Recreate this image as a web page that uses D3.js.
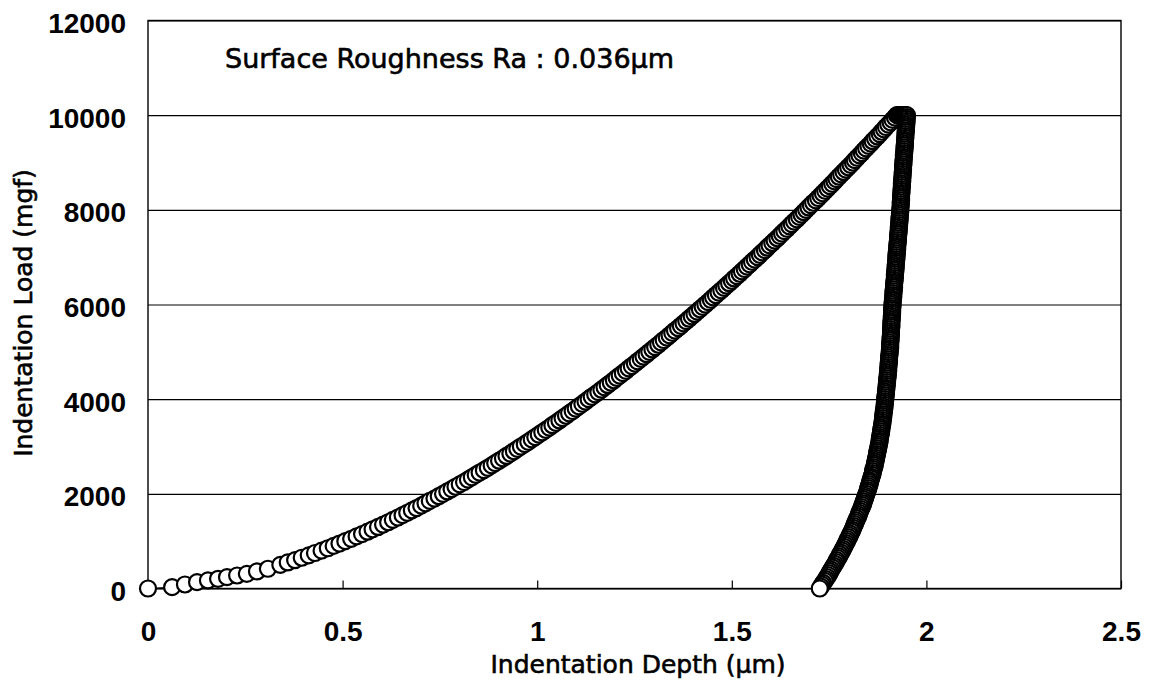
<!DOCTYPE html>
<html>
<head>
<meta charset="utf-8">
<script src="https://cdn.jsdelivr.net/npm/d3@7"></script>
<style>
  body { margin: 0; background: #fff; }
  svg { display: block; }
</style>
</head>
<body>
<svg id="chart" width="1151" height="695"></svg>
<script>
// Loading branch: indentation depth (µm) and load (mgf)
const loadDepth = [
  0, 0.062, 0.095, 0.126, 0.154, 0.180, 0.203, 0.229, 0.254, 0.280, 0.308,
  0.340, 0.359, 0.378, 0.395, 0.413, 0.429, 0.446, 0.462, 0.477, 0.492, 0.507,
  0.522, 0.536, 0.550, 0.564, 0.577, 0.591, 0.604, 0.617, 0.629, 0.642,
  0.654, 0.666, 0.678, 0.690, 0.702, 0.713, 0.724, 0.736, 0.747, 0.758,
  0.769, 0.780, 0.790, 0.801, 0.812, 0.822, 0.832, 0.842, 0.852, 0.863,
  0.873, 0.883, 0.892, 0.902, 0.912, 0.921, 0.931, 0.940, 0.949, 0.958,
  0.968, 0.977, 0.986, 0.995, 1.004, 1.013, 1.022, 1.031, 1.039, 1.048,
  1.057, 1.065, 1.074, 1.082, 1.091, 1.099, 1.107, 1.116, 1.124, 1.132,
  1.140, 1.149, 1.157, 1.165, 1.173, 1.181, 1.189, 1.197, 1.204, 1.212,
  1.220, 1.228, 1.235, 1.243, 1.251, 1.258, 1.266, 1.273, 1.281, 1.288,
  1.296, 1.303, 1.311, 1.318, 1.325, 1.333, 1.340, 1.347, 1.354, 1.362,
  1.369, 1.376, 1.383, 1.390, 1.397, 1.404, 1.411, 1.418, 1.425, 1.432,
  1.439, 1.446, 1.452, 1.459, 1.466, 1.473, 1.480, 1.486, 1.493, 1.500,
  1.506, 1.513, 1.520, 1.526, 1.533, 1.539, 1.546, 1.552, 1.559, 1.566,
  1.572, 1.578, 1.585, 1.591, 1.597, 1.604, 1.610, 1.617, 1.623, 1.629,
  1.635, 1.642, 1.648, 1.654, 1.660, 1.667, 1.673, 1.679, 1.685, 1.691,
  1.697, 1.703, 1.709, 1.716, 1.722, 1.728, 1.734, 1.740, 1.746, 1.752,
  1.758, 1.764, 1.769, 1.775, 1.781, 1.787, 1.793, 1.799, 1.805, 1.811,
  1.816, 1.822, 1.828, 1.834, 1.839, 1.845, 1.851, 1.857, 1.862, 1.868,
  1.874, 1.880, 1.885, 1.891, 1.896, 1.902, 1.908, 1.913, 1.919, 1.924
];
const loadForce = [
  0, 28, 85, 134, 170, 205, 240, 275, 310, 360, 417,
  500, 550, 600, 650, 700, 750, 800, 850, 900, 950, 1000,
  1050, 1100, 1150, 1200, 1250, 1300, 1350, 1400, 1450, 1500,
  1550, 1600, 1650, 1700, 1750, 1800, 1850, 1900, 1950, 2000,
  2050, 2100, 2150, 2200, 2250, 2300, 2350, 2400, 2450, 2500,
  2550, 2600, 2650, 2700, 2750, 2800, 2850, 2900, 2950, 3000,
  3050, 3100, 3150, 3200, 3250, 3300, 3350, 3400, 3450, 3500,
  3550, 3600, 3650, 3700, 3750, 3800, 3850, 3900, 3950, 4000,
  4050, 4100, 4150, 4200, 4250, 4300, 4350, 4400, 4450, 4500,
  4550, 4600, 4650, 4700, 4750, 4800, 4850, 4900, 4950, 5000,
  5050, 5100, 5150, 5200, 5250, 5300, 5350, 5400, 5450, 5500,
  5550, 5600, 5650, 5700, 5750, 5800, 5850, 5900, 5950, 6000,
  6050, 6100, 6150, 6200, 6250, 6300, 6350, 6400, 6450, 6500,
  6550, 6600, 6650, 6700, 6750, 6800, 6850, 6900, 6950, 7000,
  7050, 7100, 7150, 7200, 7250, 7300, 7350, 7400, 7450, 7500,
  7550, 7600, 7650, 7700, 7750, 7800, 7850, 7900, 7950, 8000,
  8050, 8100, 8150, 8200, 8250, 8300, 8350, 8400, 8450, 8500,
  8550, 8600, 8650, 8700, 8750, 8800, 8850, 8900, 8950, 9000,
  9050, 9100, 9150, 9200, 9250, 9300, 9350, 9400, 9450, 9500,
  9550, 9600, 9650, 9700, 9750, 9800, 9850, 9900, 9950, 10000
];

// Hold at peak load: depth creeps while load stays at maximum
const holdDepth = [1.927, 1.929, 1.931, 1.933, 1.935, 1.937, 1.939, 1.941, 1.943, 1.945, 1.947];
const holdForce = [10000, 10000, 10000, 10000, 10000, 10000, 10000, 10000, 10000, 10000, 10000];

// Unloading branch
const unloadDepth = [
  1.950, 1.950, 1.949, 1.949, 1.949, 1.948, 1.948, 1.947, 1.947, 1.947, 1.946, 1.946, 1.946,
  1.945, 1.945, 1.945, 1.944, 1.944, 1.944, 1.943, 1.943, 1.942, 1.942, 1.942, 1.941, 1.941,
  1.941, 1.940, 1.940, 1.940, 1.939, 1.939, 1.939, 1.938, 1.938, 1.938, 1.937, 1.937, 1.937,
  1.936, 1.936, 1.936, 1.935, 1.935, 1.935, 1.935, 1.934, 1.934, 1.934, 1.933, 1.933,
  1.933, 1.932, 1.932, 1.931, 1.931, 1.931, 1.930, 1.930, 1.929, 1.929, 1.929, 1.928, 1.928,
  1.927, 1.927, 1.927, 1.926, 1.926, 1.925, 1.925, 1.925, 1.924, 1.924, 1.923, 1.923,
  1.923, 1.922, 1.922, 1.921, 1.921, 1.921, 1.920, 1.920, 1.919, 1.919, 1.919, 1.918, 1.918,
  1.917, 1.917, 1.917, 1.916, 1.916, 1.915, 1.915, 1.915, 1.914, 1.914, 1.913, 1.913,
  1.913, 1.912, 1.912, 1.912, 1.912, 1.911, 1.911, 1.911, 1.910, 1.910, 1.910, 1.910, 1.909,
  1.909, 1.909, 1.909, 1.908, 1.908, 1.908, 1.907, 1.907, 1.907, 1.907, 1.906, 1.906,
  1.905, 1.905, 1.904, 1.904, 1.904, 1.903, 1.903, 1.902, 1.902, 1.902, 1.901, 1.901, 1.900,
  1.900, 1.899, 1.899, 1.898, 1.898, 1.897, 1.897, 1.896, 1.896, 1.895, 1.895, 1.894,
  1.894, 1.893, 1.893, 1.892, 1.892, 1.891, 1.890, 1.890, 1.889, 1.889, 1.888, 1.887, 1.887,
  1.886, 1.885, 1.884, 1.884, 1.883, 1.882, 1.881, 1.880, 1.880, 1.879, 1.878, 1.877,
  1.876, 1.875, 1.874, 1.873, 1.872, 1.871, 1.870, 1.869, 1.868, 1.867, 1.866, 1.864, 1.863,
  1.862, 1.861, 1.859, 1.858, 1.856, 1.855, 1.854, 1.852, 1.851, 1.849, 1.848, 1.846,
  1.844, 1.843, 1.841, 1.839, 1.838, 1.836, 1.834, 1.832, 1.830, 1.828, 1.826, 1.825, 1.822,
  1.820, 1.818, 1.816, 1.814, 1.812, 1.810, 1.808, 1.805, 1.803, 1.801, 1.798, 1.796,
  1.794, 1.791, 1.789, 1.786, 1.784, 1.781, 1.778, 1.776, 1.773, 1.770, 1.768, 1.765, 1.762,
  1.759, 1.756, 1.753, 1.751, 1.748, 1.745, 1.742, 1.739, 1.735, 1.732, 1.729, 1.726
];
const unloadForce = [
  10000, 9960, 9920, 9880, 9840, 9800, 9760, 9720, 9680, 9640, 9600, 9560, 9520,
  9480, 9440, 9400, 9360, 9320, 9280, 9240, 9200, 9160, 9120, 9080, 9040, 9000,
  8960, 8920, 8880, 8840, 8800, 8760, 8720, 8680, 8640, 8600, 8560, 8520, 8480,
  8440, 8400, 8360, 8320, 8280, 8240, 8200, 8160, 8120, 8080, 8040, 8000,
  7960, 7920, 7880, 7840, 7800, 7760, 7720, 7680, 7640, 7600, 7560, 7520, 7480,
  7440, 7400, 7360, 7320, 7280, 7240, 7200, 7160, 7120, 7080, 7040, 7000,
  6960, 6920, 6880, 6840, 6800, 6760, 6720, 6680, 6640, 6600, 6560, 6520, 6480,
  6440, 6400, 6360, 6320, 6280, 6240, 6200, 6160, 6120, 6080, 6040, 6000,
  5960, 5920, 5880, 5840, 5800, 5760, 5720, 5680, 5640, 5600, 5560, 5520, 5480,
  5440, 5400, 5360, 5320, 5280, 5240, 5200, 5160, 5120, 5080, 5040, 5000,
  4960, 4920, 4880, 4840, 4800, 4760, 4720, 4680, 4640, 4600, 4560, 4520, 4480,
  4440, 4400, 4360, 4320, 4280, 4240, 4200, 4160, 4120, 4080, 4040, 4000,
  3960, 3920, 3880, 3840, 3800, 3760, 3720, 3680, 3640, 3600, 3560, 3520, 3480,
  3440, 3400, 3360, 3320, 3280, 3240, 3200, 3160, 3120, 3080, 3040, 3000,
  2960, 2920, 2880, 2840, 2800, 2760, 2720, 2680, 2640, 2600, 2560, 2520, 2480,
  2440, 2400, 2360, 2320, 2280, 2240, 2200, 2160, 2120, 2080, 2040, 2000,
  1960, 1920, 1880, 1840, 1800, 1760, 1720, 1680, 1640, 1600, 1560, 1520, 1480,
  1440, 1400, 1360, 1320, 1280, 1240, 1200, 1160, 1120, 1080, 1040, 1000,
  960, 920, 880, 840, 800, 760, 720, 680, 640, 600, 560, 520, 480,
  440, 400, 360, 320, 280, 240, 200, 160, 120, 80, 40, 0
];

// Axis ticks and texts
const xTicks = [0, 0.5, 1, 1.5, 2, 2.5];
const yTicks = [0, 2000, 4000, 6000, 8000, 10000, 12000];
const xTitle = "Indentation Depth (µm)";
const yTitle = "Indentation Load (mgf)";
const note = "Surface Roughness Ra : 0.036µm";

const svg = d3.select("#chart");
const plot = { left: 148, right: 1121, top: 20.5, bottom: 588.5 };
const x = d3.scaleLinear().domain([0, 2.5]).range([plot.left, plot.right]);
const y = d3.scaleLinear().domain([0, 12000]).range([plot.bottom, plot.top]);

svg.append("rect").attr("width", 1151).attr("height", 695).attr("fill", "#fff");

const tickFont = "'Liberation Sans', Arial, sans-serif";
const titleFont = "'DejaVu Sans', sans-serif";

// Horizontal gridlines and y tick labels
const yAxis = svg.append("g")
  .attr("transform", `translate(${plot.left},0)`)
  .call(d3.axisLeft(y).tickValues(yTicks)
    .tickSize(-(plot.right - plot.left))
    .tickFormat(d => String(d)));
yAxis.select(".domain").remove();
yAxis.selectAll(".tick line")
  .attr("stroke", "#000").attr("stroke-width", 1.2);
yAxis.selectAll(".tick text")
  .attr("x", -22).attr("dy", null).attr("y", 12)
  .attr("text-anchor", "end")
  .style("font-family", tickFont).style("font-size", "28px")
  .style("font-weight", "bold").attr("fill", "#000");

// X axis with short inward ticks
const xAxis = svg.append("g")
  .attr("transform", `translate(0,${plot.bottom})`)
  .call(d3.axisBottom(x).tickValues(xTicks).tickSize(-8)
    .tickFormat(d => String(d)));
xAxis.select(".domain").remove();
xAxis.selectAll(".tick line").attr("stroke", "#000").attr("stroke-width", 1.2);
xAxis.selectAll(".tick text")
  .attr("y", 52.5).attr("dy", null)
  .style("font-family", tickFont).style("font-size", "28px")
  .style("font-weight", "bold").attr("fill", "#000");

// Plot frame
svg.append("rect")
  .attr("x", plot.left).attr("y", plot.top)
  .attr("width", plot.right - plot.left).attr("height", plot.bottom - plot.top)
  .attr("fill", "none").attr("stroke", "#000").attr("stroke-width", 1.4);

// Measured points in acquisition order
const points = [
  ...d3.zip(loadDepth, loadForce),
  ...d3.zip(holdDepth, holdForce),
  ...d3.zip(unloadDepth, unloadForce)
];

svg.append("path")
  .datum(points)
  .attr("fill", "none").attr("stroke", "#000").attr("stroke-width", 1)
  .attr("d", d3.line().x(d => x(d[0])).y(d => y(d[1])));

svg.append("g").selectAll("circle")
  .data(points)
  .join("circle")
  .attr("cx", d => x(d[0]))
  .attr("cy", d => y(d[1]))
  .attr("r", 8)
  .attr("fill", "#fff")
  .attr("stroke", "#000")
  .attr("stroke-width", 2.2);

// Annotation
svg.append("text")
  .attr("x", 225).attr("y", 68)
  .style("font-family", titleFont).style("font-size", "27px")
  .attr("fill", "#000").attr("stroke", "#000").attr("stroke-width", 0.6)
  .text(note);

// Axis titles
svg.append("text")
  .attr("x", 638).attr("y", 673)
  .attr("text-anchor", "middle")
  .style("font-family", titleFont).style("font-size", "25px")
  .attr("fill", "#000").attr("stroke", "#000").attr("stroke-width", 0.6)
  .text(xTitle);

svg.append("text")
  .attr("transform", "translate(32,313) rotate(-90)")
  .attr("text-anchor", "middle")
  .style("font-family", titleFont).style("font-size", "25px")
  .attr("fill", "#000").attr("stroke", "#000").attr("stroke-width", 0.6)
  .text(yTitle);
</script>
</body>
</html>
